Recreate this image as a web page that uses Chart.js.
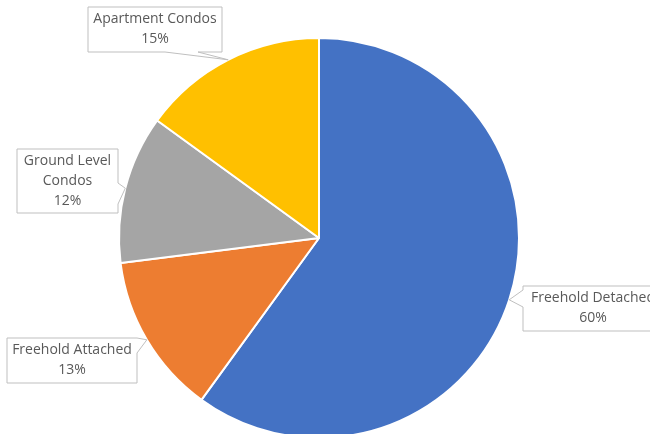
<!DOCTYPE html>
<html>
<head>
<meta charset="utf-8">
<script src="https://cdn.jsdelivr.net/npm/chart.js@4.4.1/dist/chart.umd.min.js"></script>
<style>
  html, body { margin: 0; padding: 0; background: #fff; }
  #wrap { width: 650px; height: 434px; overflow: hidden; position: relative; }
  #wrap canvas { position: absolute; left: 0; top: 0; }
</style>
</head>
<body>
<div id="wrap"><canvas id="pieChart" width="650" height="440"></canvas></div>
<script>
// Data
const categories = ['Freehold Detached', 'Freehold Attached', 'Ground Level Condos', 'Apartment Condos'];
const shares = [60, 13, 12, 15];
const sliceColors = ['#4472C4', '#ED7D31', '#A5A5A5', '#FFC000'];

// Callout boxes (layout only): rect, which side the pointer leaves from, and pointer base along that side
const callouts = [
    { x: 523, y: 286, w: 140, h: 45, lines: ['Freehold Detached'], side: 'left', b0: 4, b1: 21 },
    { x: 7, y: 338, w: 130, h: 45, lines: ['Freehold Attached'], side: 'right', b0: 0, b1: 15 },
    { x: 17, y: 149, w: 101, h: 64, lines: ['Ground Level', 'Condos'], side: 'right', b0: 34, b1: 55 },
    { x: 88, y: 7, w: 134, h: 45, lines: ['Apartment Condos'], side: 'bottom', b0: 77, b1: 110 }
];

const calloutPlugin = {
    id: 'callouts',
    afterDatasetsDraw(chart) {
        const ctx = chart.ctx;
        const arcs = chart.getDatasetMeta(0).data;
        const total = shares.reduce((a, b) => a + b, 0);
        arcs.forEach((arc, i) => {
            const c = callouts[i];
            const p = arc.getProps(['x', 'y', 'startAngle', 'endAngle', 'outerRadius'], true);
            const mid = (p.startAngle + p.endAngle) / 2;
            const tx = p.x + Math.cos(mid) * p.outerRadius;
            const ty = p.y + Math.sin(mid) * p.outerRadius;

            // outline path with the pointer wedge inserted on one side
            const L = c.x, T = c.y, R = c.x + c.w, B = c.y + c.h;
            ctx.save();
            ctx.beginPath();
            ctx.moveTo(L, T);
            if (c.side === 'top') { ctx.lineTo(L + c.b0, T); ctx.lineTo(tx, ty); ctx.lineTo(L + c.b1, T); }
            ctx.lineTo(R, T);
            if (c.side === 'right') { ctx.lineTo(R, T + c.b0); ctx.lineTo(tx, ty); ctx.lineTo(R, T + c.b1); }
            ctx.lineTo(R, B);
            if (c.side === 'bottom') { ctx.lineTo(L + c.b1, B); ctx.lineTo(tx, ty); ctx.lineTo(L + c.b0, B); }
            ctx.lineTo(L, B);
            if (c.side === 'left') { ctx.lineTo(L, T + c.b1); ctx.lineTo(tx, ty); ctx.lineTo(L, T + c.b0); }
            ctx.closePath();
            ctx.fillStyle = '#ffffff';
            ctx.fill();
            ctx.strokeStyle = '#BFBFBF';
            ctx.lineWidth = 1;
            ctx.stroke();

            // text
            const txt = c.lines.concat([Math.round(shares[i] / total * 100) + '%']);
            ctx.fillStyle = '#595959';
            ctx.font = "14px 'Open Sans', sans-serif";
            ctx.textAlign = 'center';
            ctx.textBaseline = 'middle';
            const lh = 20;
            const cx = c.x + c.w / 2;
            const cy0 = c.y + c.h / 2 - (txt.length - 1) * lh / 2;
            txt.forEach((t, k) => ctx.fillText(t, cx, cy0 + k * lh));
            ctx.restore();
        });
    }
};

new Chart(document.getElementById('pieChart'), {
    type: 'pie',
    data: {
        labels: categories,
        datasets: [{
            data: shares,
            backgroundColor: sliceColors,
            borderColor: '#ffffff',
            borderWidth: 2
        }]
    },
    options: {
        responsive: false,
        animation: false,
        layout: { padding: { top: 37, bottom: 1, left: 0, right: 12 } },
        plugins: {
            legend: { display: false },
            tooltip: { enabled: false }
        }
    },
    plugins: [calloutPlugin]
});
</script>
</body>
</html>
